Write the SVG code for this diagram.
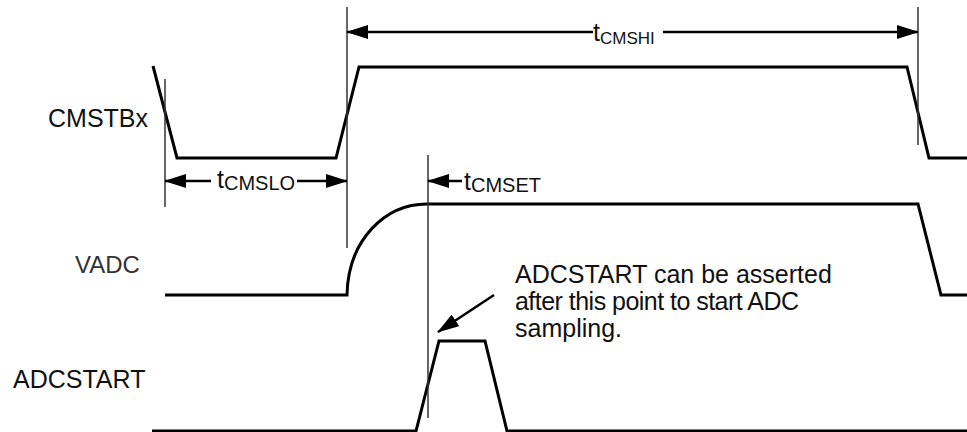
<svg xmlns="http://www.w3.org/2000/svg" width="967" height="432" viewBox="0 0 967 432">
<style>
.sig{fill:none;stroke:#000;stroke-width:3;stroke-linejoin:miter}
.ref{fill:none;stroke:#333;stroke-width:1.5}
.dim{fill:none;stroke:#000;stroke-width:2.5}
.lbl{font-family:"Liberation Sans",Arial,sans-serif;font-size:25px;fill:#111}
.sub{font-size:20px}
</style>
<defs>
<marker id="ah" markerUnits="userSpaceOnUse" markerWidth="22" markerHeight="14" refX="21" refY="7" orient="auto-start-reverse" viewBox="0 0 22 14">
<path d="M0,0 L22,7 L0,14 z" fill="#000"/>
</marker>
</defs>
<rect width="967" height="432" fill="#fff"/>
<g id="signal-cmstbx">
<path class="sig" d="M153,66 L177,158 L336,158 L359,67 L907,67 L929,158 L967,158"/>
<text class="lbl" x="48" y="127">CMSTBx</text>
</g>
<g id="signal-vadc">
<path class="sig" d="M165,295 L347,295 C348,240 385,204 427,204 L918,204 L941,295 L967,295"/>
<text class="lbl" x="75" y="273" style="fill:#333;font-size:24px">VADC</text>
</g>
<g id="signal-adcstart">
<path class="sig" d="M152,431 L416,431 L439,341 L485,341 L507,431 L967,431"/>
<text class="lbl" x="13" y="388">ADCSTART</text>
</g>
<g id="reference-lines">
<line class="ref" x1="165" y1="79" x2="165" y2="207"/>
<line class="ref" x1="347" y1="7" x2="347" y2="248"/>
<line class="ref" x1="918" y1="7" x2="918" y2="145"/>
<line class="ref" x1="428" y1="155" x2="428" y2="418"/>
</g>
<g id="connectors">
<line class="dim" x1="347" y1="32" x2="593" y2="32" marker-start="url(#ah)"/>
<line class="dim" x1="663" y1="32" x2="918" y2="32" marker-end="url(#ah)"/>
<line class="dim" x1="165" y1="181" x2="211" y2="181" marker-start="url(#ah)"/>
<line class="dim" x1="297" y1="181" x2="347" y2="181" marker-end="url(#ah)"/>
<line class="dim" x1="462" y1="181" x2="428" y2="181" marker-end="url(#ah)"/>
<line class="dim" x1="494" y1="295" x2="438" y2="332" marker-end="url(#ah)"/>
</g>
<g id="label-tcmshi">
<text class="lbl" x="593" y="41">t<tspan dy="3" style="font-size:17px">CMSHI</tspan></text>
</g>
<g id="label-tcmslo">
<text class="lbl" x="217" y="188">t<tspan class="sub" dy="2">CMSLO</tspan></text>
</g>
<g id="label-tcmset">
<text class="lbl" x="464" y="190">t<tspan class="sub" dy="2">CMSET</tspan></text>
</g>
<g id="annotation">
<text class="lbl" x="515" y="283">ADCSTART can be asserted</text>
<text class="lbl" x="515" y="310" textLength="284" lengthAdjust="spacing">after this point to start ADC</text>
<text class="lbl" x="515" y="337">sampling.</text>
</g>
</svg>
